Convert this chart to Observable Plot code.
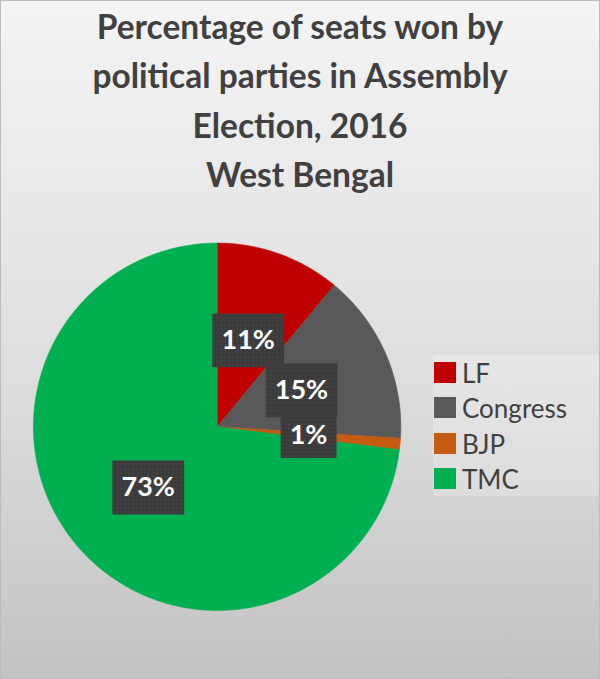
<!DOCTYPE html>
<html><head><meta charset="utf-8">
<script src="https://cdn.jsdelivr.net/npm/d3@7"></script>
<script src="https://cdn.jsdelivr.net/npm/@observablehq/plot@0.6"></script>
<style>
body{margin:0;}
#chart{position:relative;width:600px;height:679px;box-sizing:border-box;border:1px solid #bcbcbc;background:linear-gradient(to bottom,#f4f4f4 0%,#dedede 55%,#c3c3c3 100%);overflow:hidden;font-family:Lato,"Open Sans",sans-serif;}
#title{position:absolute;left:0;right:0;top:1px;text-align:center;font-weight:bold;font-size:33.5px;line-height:49.3px;color:#404040;}
#plot{position:absolute;left:-1px;top:-1px;}
#legend{position:absolute;left:432px;top:354px;width:168px;height:141px;background:rgba(255,255,255,0.22);}
.sw{position:absolute;left:1px;width:22px;height:21px;}
.lt{position:absolute;left:29px;font-size:26px;line-height:26px;color:#404040;white-space:nowrap;}
</style>
</head><body>
<div id="chart">
  <div id="plot"></div>
  <div id="title"></div>
  <div id="legend"></div>
</div>
<script>
const titleLines = ["Percentage of seats won by","political parties in Assembly","Election, 2016","West Bengal"];
const parties = ["LF","Congress","BJP","TMC"];
const shares = [11,15,1,73];
const labels = ["11%","15%","1%","73%"];
const colors = ["#c00000","#595959","#c55a11","#00b050"];

document.getElementById("title").innerHTML = titleLines.map(t => `<div>${t}</div>`).join("");

const legend = document.getElementById("legend");
parties.forEach((p, i) => {
  const sw = document.createElement("div");
  sw.className = "sw"; sw.style.top = (7 + i * 35.3) + "px"; sw.style.background = colors[i];
  const lt = document.createElement("div");
  lt.className = "lt"; lt.style.top = (5 + i * 35.3) + "px"; lt.textContent = p;
  legend.appendChild(sw); legend.appendChild(lt);
});

const arcs = d3.pie().sort(null).value(d => d)(shares);
const slices = arcs.map((a, i) => {
  const n = Math.max(4, Math.ceil((a.endAngle - a.startAngle) / 0.01));
  const pts = [{x: 0, y: 0}];
  for (let k = 0; k <= n; k++) {
    const t = a.startAngle + (a.endAngle - a.startAngle) * k / n;
    pts.push({x: Math.sin(t), y: Math.cos(t)});
  }
  pts.push({x: 0, y: 0});
  return pts;
});
const labelData = arcs.map((a, i) => {
  const m = (a.startAngle + a.endAngle) / 2;
  return {label: labels[i], x: 0.5 * Math.sin(m), y: 0.5 * Math.cos(m)};
});
const boxSymbol = (w, h) => ({draw(ctx) { ctx.rect(-w / 2, -h / 2, w, h); }});

const plot = Plot.plot({
  width: 600,
  height: 679,
  x: {domain: [-1, 1], range: [33, 401], axis: null},
  y: {domain: [-1, 1], range: [611, 243], axis: null},
  style: {background: "transparent", fontFamily: "Lato, sans-serif"},
  marks: [
    ...slices.map((pts, i) => Plot.line(pts, {x: "x", y: "y", fill: colors[i], stroke: colors[i], strokeWidth: 0.6})),
    Plot.dot(labelData.filter(d => d.label.length > 2), {x: "x", y: "y", symbol: boxSymbol(72, 54), fill: "url(#dots)", stroke: "none"}),
    Plot.dot(labelData.filter(d => d.label.length <= 2), {x: "x", y: "y", symbol: boxSymbol(56, 45), fill: "url(#dots)", stroke: "none"}),
    Plot.text(labelData, {x: "x", y: "y", text: "label", fill: "white", fontSize: 27, fontWeight: "bold", fontFamily: "Lato, sans-serif"})
  ]
});
const defs = d3.select(plot).insert("defs", ":first-child");
const pat = defs.append("pattern").attr("id", "dots").attr("width", 4).attr("height", 4).attr("patternUnits", "userSpaceOnUse");
pat.append("rect").attr("width", 4).attr("height", 4).attr("fill", "#3b3b3b");
pat.append("circle").attr("cx", 1).attr("cy", 1).attr("r", 0.7).attr("fill", "#525252");
document.getElementById("plot").appendChild(plot);
</script>
</body></html>
